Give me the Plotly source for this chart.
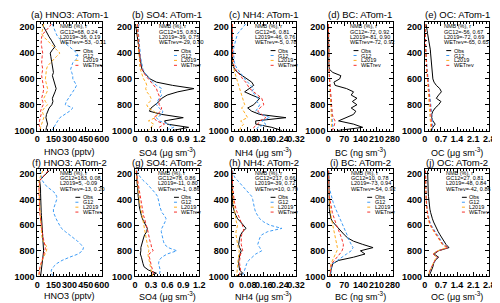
import plotly.graph_objects as go

# ---------------- data ----------------
PRESSURE = [175, 200, 225, 250, 275, 300, 325, 350, 375, 400, 425, 450, 475, 500, 525, 550, 575,
            600, 625, 650, 675, 700, 725, 750, 775, 800, 825, 850, 875, 900, 925, 950, 975, 1000]

SERIES_NAMES = ["Obs", "G12", "L2019", "WETrev"]

# ATom-1
hno3_a1_obs = [45,60,80,95,110,130,150,165,140,120,125,130,135,140,145,150,140,150,155,165,175,165,150,140,145,135,110,95,85,80,90,95,85,80]
hno3_a1_g12 = [140,150,165,175,190,220,260,300,340,370,375,360,330,320,310,320,330,330,345,365,350,330,310,290,270,260,330,300,250,210,190,170,150,135]
hno3_a1_l2019 = [60,55,45,40,60,90,120,150,185,210,180,150,120,95,85,80,75,75,80,85,95,90,75,60,75,95,65,45,55,60,50,40,30,30]
hno3_a1_wet = [130,110,80,55,40,35,35,40,45,50,45,40,40,45,50,45,40,45,50,55,60,55,45,40,50,55,40,30,35,25,20,15,25,30]

so4_a1_obs = [0.01,0.02,0.03,0.04,0.05,0.05,0.06,0.07,0.07,0.08,0.08,0.09,0.10,0.11,0.13,0.17,0.22,0.28,0.40,0.70,1.10,0.80,0.60,0.50,0.45,0.38,0.30,0.27,0.50,0.90,0.55,0.60,1.00,0.70]
so4_a1_g12 = [0.08,0.06,0.06,0.07,0.07,0.08,0.08,0.09,0.09,0.10,0.10,0.11,0.12,0.13,0.15,0.18,0.22,0.27,0.33,0.40,0.50,0.47,0.50,0.45,0.42,0.40,0.45,0.52,0.50,0.40,0.45,0.62,0.72,0.55]
so4_a1_l2019 = [0.04,0.04,0.05,0.05,0.06,0.06,0.06,0.07,0.07,0.07,0.08,0.08,0.09,0.09,0.10,0.12,0.14,0.16,0.20,0.22,0.20,0.22,0.27,0.30,0.28,0.22,0.25,0.35,0.42,0.38,0.25,0.35,0.30,0.25]
so4_a1_wet = [0.05,0.05,0.05,0.06,0.06,0.07,0.07,0.08,0.08,0.09,0.09,0.10,0.10,0.11,0.13,0.16,0.20,0.25,0.30,0.35,0.40,0.42,0.45,0.47,0.45,0.45,0.50,0.47,0.42,0.35,0.40,0.55,0.45,0.50]

nh4_a1_obs = [0.002,0.002,0.002,0.003,0.003,0.003,0.003,0.003,0.004,0.004,0.004,0.004,0.005,0.008,0.015,0.030,0.055,0.080,0.100,0.110,0.085,0.065,0.100,0.140,0.125,0.110,0.080,0.100,0.140,0.270,0.120,0.120,0.200,0.250]
nh4_a1_g12 = [0.070,0.055,0.045,0.030,0.025,0.020,0.015,0.012,0.010,0.010,0.010,0.012,0.015,0.020,0.030,0.045,0.055,0.065,0.080,0.100,0.110,0.100,0.120,0.130,0.125,0.140,0.130,0.120,0.150,0.190,0.150,0.170,0.130,0.120]
nh4_a1_l2019 = [0.002,0.002,0.002,0.002,0.003,0.003,0.003,0.003,0.004,0.004,0.004,0.005,0.006,0.008,0.012,0.016,0.020,0.025,0.030,0.035,0.040,0.045,0.050,0.055,0.060,0.065,0.050,0.060,0.070,0.080,0.045,0.060,0.045,0.040]
nh4_a1_wet = [0.003,0.003,0.003,0.004,0.004,0.004,0.005,0.005,0.005,0.006,0.006,0.007,0.008,0.012,0.020,0.030,0.045,0.055,0.070,0.080,0.090,0.110,0.130,0.150,0.155,0.160,0.140,0.130,0.150,0.170,0.140,0.130,0.110,0.110]

bc_a1_obs = [1,1,1,1,1,1,1,2,2,2,2,2,2,3,5,20,55,50,25,30,80,110,100,125,105,125,100,120,110,75,45,110,150,40]
bc_a1_g12 = [1,1,1,1,1,1,1,2,2,2,2,2,3,3,3,4,5,6,7,8,9,10,11,12,13,14,15,16,17,18,20,22,20,18]
bc_a1_l2019 = [1,1,1,1,1,1,1,1,1,1,2,2,2,2,3,3,4,5,6,6,7,8,9,10,10,11,12,12,13,14,14,15,15,14]
bc_a1_wet = [1,1,1,1,1,1,1,1,2,2,2,2,2,2,3,4,5,6,7,8,9,10,11,12,12,13,14,16,18,22,30,28,22,18]

oc_a1_obs = [0.05,0.06,0.10,0.12,0.15,0.18,0.20,0.22,0.24,0.25,0.26,0.27,0.28,0.28,0.29,0.30,0.32,0.35,0.40,0.50,0.65,0.72,0.60,0.50,0.70,0.60,0.45,0.35,0.30,0.30,0.35,0.45,0.35,0.25]
oc_a1_g12 = [0.01,0.01,0.02,0.02,0.03,0.03,0.04,0.04,0.05,0.05,0.06,0.07,0.08,0.09,0.10,0.11,0.12,0.13,0.15,0.16,0.18,0.20,0.21,0.23,0.25,0.27,0.28,0.30,0.31,0.32,0.33,0.35,0.34,0.33]
oc_a1_l2019 = [0.01,0.01,0.01,0.02,0.02,0.02,0.03,0.03,0.04,0.04,0.05,0.05,0.06,0.07,0.08,0.09,0.10,0.11,0.12,0.13,0.14,0.16,0.17,0.18,0.20,0.21,0.22,0.23,0.24,0.25,0.26,0.28,0.26,0.24]
oc_a1_wet = [0.01,0.01,0.02,0.02,0.02,0.03,0.03,0.04,0.04,0.05,0.05,0.06,0.07,0.08,0.09,0.10,0.11,0.12,0.13,0.15,0.16,0.18,0.19,0.21,0.22,0.24,0.25,0.27,0.28,0.29,0.30,0.31,0.30,0.29]

# ATom-2
hno3_a2_obs = [110,80,45,20,25,30,30,30,30,32,33,35,35,36,38,40,40,42,44,46,48,50,52,55,60,58,55,52,50,48,45,40,35,30]
hno3_a2_g12 = [25,30,35,45,65,90,130,165,180,180,170,160,150,150,160,175,190,205,225,260,300,340,375,405,430,420,380,300,230,180,150,130,130,150]
hno3_a2_l2019 = [50,40,25,15,15,15,15,16,18,20,21,22,23,25,26,27,28,30,32,35,40,45,55,75,90,85,70,55,45,35,25,20,15,15]
hno3_a2_wet = [100,75,45,25,20,15,15,15,15,15,16,18,20,22,25,28,31,35,40,45,50,55,62,70,75,70,60,50,40,32,25,20,15,15]

so4_a2_obs = [0.03,0.03,0.03,0.04,0.04,0.05,0.05,0.06,0.06,0.07,0.07,0.08,0.09,0.10,0.12,0.14,0.17,0.20,0.23,0.22,0.18,0.16,0.14,0.12,0.11,0.11,0.10,0.12,0.13,0.15,0.17,0.25,0.40,0.25]
so4_a2_g12 = [0.05,0.06,0.10,0.15,0.22,0.28,0.33,0.38,0.42,0.44,0.45,0.46,0.48,0.50,0.55,0.58,0.56,0.53,0.50,0.49,0.50,0.52,0.53,0.55,0.62,0.78,0.60,0.50,0.45,0.44,0.45,0.47,0.46,0.44]
so4_a2_l2019 = [0.02,0.02,0.03,0.04,0.05,0.05,0.06,0.07,0.08,0.08,0.09,0.10,0.11,0.12,0.13,0.14,0.15,0.16,0.17,0.18,0.19,0.20,0.22,0.23,0.25,0.26,0.24,0.25,0.26,0.27,0.28,0.30,0.32,0.33]
so4_a2_wet = [0.03,0.03,0.04,0.05,0.06,0.07,0.08,0.09,0.10,0.10,0.11,0.12,0.13,0.15,0.16,0.18,0.19,0.21,0.23,0.24,0.25,0.27,0.28,0.30,0.31,0.34,0.26,0.27,0.28,0.30,0.31,0.33,0.34,0.35]

nh4_a2_obs = [0.002,0.002,0.002,0.003,0.003,0.003,0.004,0.004,0.004,0.005,0.005,0.006,0.010,0.015,0.022,0.030,0.045,0.060,0.072,0.055,0.045,0.040,0.038,0.035,0.040,0.048,0.042,0.038,0.036,0.035,0.036,0.040,0.055,0.020]
nh4_a2_g12 = [0.005,0.008,0.015,0.030,0.045,0.060,0.075,0.090,0.100,0.105,0.108,0.110,0.115,0.120,0.130,0.140,0.160,0.190,0.250,0.180,0.150,0.140,0.135,0.130,0.140,0.150,0.120,0.100,0.085,0.075,0.070,0.065,0.060,0.050]
nh4_a2_l2019 = [0.001,0.001,0.002,0.002,0.003,0.003,0.004,0.005,0.006,0.008,0.010,0.012,0.014,0.016,0.018,0.020,0.024,0.030,0.025,0.022,0.022,0.024,0.026,0.030,0.033,0.038,0.035,0.033,0.032,0.031,0.030,0.030,0.028,0.025]
nh4_a2_wet = [0.002,0.002,0.003,0.004,0.005,0.006,0.007,0.008,0.010,0.012,0.015,0.018,0.022,0.028,0.034,0.040,0.048,0.055,0.060,0.058,0.050,0.048,0.047,0.048,0.052,0.055,0.045,0.042,0.040,0.040,0.042,0.045,0.040,0.035]

bc_a2_obs = [2,2,2,2,3,3,3,3,3,4,4,4,5,7,9,12,20,32,45,55,70,85,110,150,195,140,160,110,45,20,15,12,10,8]
bc_a2_g12 = [2,2,3,3,4,5,7,10,13,17,22,27,33,40,47,54,60,66,72,78,82,86,92,100,108,100,80,60,35,20,14,12,12,12]
bc_a2_l2019 = [1,1,2,2,2,3,3,4,4,5,6,7,8,10,12,14,17,20,22,25,27,30,33,38,40,38,32,25,18,12,10,8,7,7]
bc_a2_wet = [1,1,2,2,3,3,4,4,5,7,9,12,15,18,22,26,31,36,42,48,53,58,62,66,65,60,50,38,25,15,12,10,9,8]

oc_a2_obs = [0.12,0.12,0.12,0.13,0.13,0.14,0.14,0.15,0.16,0.17,0.18,0.20,0.22,0.25,0.28,0.33,0.38,0.44,0.50,0.58,0.66,0.74,0.82,0.92,1.05,0.60,0.40,0.60,0.45,0.38,0.35,0.30,0.22,0.18]
oc_a2_g12 = [0.03,0.03,0.04,0.04,0.05,0.05,0.05,0.06,0.06,0.07,0.07,0.08,0.10,0.12,0.15,0.18,0.22,0.28,0.35,0.45,0.55,0.65,0.72,0.80,1.00,0.55,0.35,0.55,0.45,0.38,0.30,0.24,0.20,0.16]
oc_a2_l2019 = [0.02,0.02,0.03,0.03,0.04,0.04,0.04,0.05,0.05,0.06,0.06,0.07,0.08,0.10,0.12,0.15,0.18,0.22,0.30,0.38,0.48,0.58,0.66,0.75,0.95,0.55,0.35,0.52,0.42,0.36,0.28,0.22,0.18,0.15]
oc_a2_wet = [0.03,0.03,0.03,0.04,0.04,0.05,0.05,0.05,0.06,0.06,0.07,0.08,0.09,0.11,0.13,0.16,0.20,0.25,0.33,0.42,0.52,0.62,0.70,0.78,1.02,0.58,0.36,0.55,0.44,0.37,0.29,0.23,0.19,0.16]

# panel titles, axis labels, stats
TITLES = ["(a) HNO3: ATom-1", "(b) SO4: ATom-1", "(c) NH4: ATom-1", "(d) BC: ATom-1", "(e) OC: ATom-1",
          "(f) HNO3: ATom-2", "(g) SO4: ATom-2", "(h) NH4: ATom-2", "(i) BC: ATom-2", "(j) OC: ATom-2"]
XLABELS = ["HNO3 (pptv)", "SO4 (μg sm<sup>-3</sup>)", "NH4 (μg sm<sup>-3</sup>)",
           "BC (ng sm<sup>-3</sup>)", "OC (μg sm<sup>-3</sup>)"]
X_MAX = [600, 1.2, 0.32, 280, 2.8]
X_DTICK = [150, 0.3, 0.08, 70, 0.7]
STATS = [
    ["GC12=68, 0.24", "L2019=-36, 0.19", "WETrev=-53, -0.11"],
    ["GC12=15, 0.83", "L2019=-39, 0.75", "WETrev=-29, 0.80"],
    ["GC12=6, 0.81", "L2019=-46, 0.76", "WETrev=-5, 0.78"],
    ["GC12=-72, 0.92", "L2019=-81, 0.90", "WETrev=-72, 0.92"],
    ["GC12=-56, 0.67", "L2019=-72, 0.69", "WETrev=-65, 0.65"],
    ["GC12=163, 0.08", "L2019=5, -0.09", "WETrev=-13, 0.20"],
    ["GC12=78, 0.86", "L2019=-11, 0.80", "WETrev=-1, 0.86"],
    ["GC12=217, 0.66", "L2019=-39, 0.72", "WETrev=10, 0.79"],
    ["GC12=10, 0.78", "L2019=-73, 0.94", "WETrev=-54, 0.92"],
    ["GC12=27, 0.81", "L2019=-48, 0.84", "WETrev=-42, 0.86"],
]

PANEL_DATA = [
    [hno3_a1_obs, hno3_a1_g12, hno3_a1_l2019, hno3_a1_wet],
    [so4_a1_obs, so4_a1_g12, so4_a1_l2019, so4_a1_wet],
    [nh4_a1_obs, nh4_a1_g12, nh4_a1_l2019, nh4_a1_wet],
    [bc_a1_obs, bc_a1_g12, bc_a1_l2019, bc_a1_wet],
    [oc_a1_obs, oc_a1_g12, oc_a1_l2019, oc_a1_wet],
    [hno3_a2_obs, hno3_a2_g12, hno3_a2_l2019, hno3_a2_wet],
    [so4_a2_obs, so4_a2_g12, so4_a2_l2019, so4_a2_wet],
    [nh4_a2_obs, nh4_a2_g12, nh4_a2_l2019, nh4_a2_wet],
    [bc_a2_obs, bc_a2_g12, bc_a2_l2019, bc_a2_wet],
    [oc_a2_obs, oc_a2_g12, oc_a2_l2019, oc_a2_wet],
]

# ---------------- styling / layout ----------------
W_PX, H_PX = 500, 303
COLORS = ["#000000", "#3d9bf5", "#ffad1f", "#f5302a"]
DASHES = ["solid", "3px,2px", "3px,2px", "3px,2px"]
FONT = "Liberation Sans, Arial, sans-serif"

COL_LEFT = [27, 127, 226, 325, 424]
PANEL_W = 66
ROWS = [(14.3, 124.7), (163.5, 273.0)]
TITLE_SHIFT = [7.5, 6.0]
XLAB_SHIFT = [21.5, 19.5]
LEG_X = [39, 40, 40, 26, 22, 39, 40, 40, 40, 38]   # px from panel left to legend line start
STAT_X = [21, 23, 22, 20, 18, 21, 22, 22, 21, 20]

fig = go.Figure()
layout = dict(
    width=W_PX, height=H_PX, margin=dict(l=0, r=0, t=0, b=0),
    paper_bgcolor="white", plot_bgcolor="white", showlegend=False,
    font=dict(family=FONT, color="black", size=9),
)
annotations = []
shapes = []

for i in range(10):
    r, c = divmod(i, 5)
    n = i + 1
    xa = "x" if n == 1 else f"x{n}"
    ya = "y" if n == 1 else f"y{n}"
    for k in range(4):
        fig.add_trace(go.Scatter(
            x=PANEL_DATA[i][k], y=PRESSURE, mode="lines", name=SERIES_NAMES[k],
            line=dict(color=COLORS[k], width=1, dash=DASHES[k]),
            xaxis=xa, yaxis=ya, hoverinfo="skip"))
    L = COL_LEFT[c]
    T, B = ROWS[r]
    H = B - T
    common = dict(showline=True, linecolor="black", linewidth=1, mirror="allticks",
                  ticks="inside", ticklen=4, tickcolor="black", tickwidth=1,
                  showgrid=False, zeroline=False, tickangle=0,
                  tickfont=dict(family=FONT, size=9, color="black", weight="bold"))
    layout[f"xaxis{n}"] = dict(
        domain=[L / W_PX, (L + PANEL_W) / W_PX], anchor=ya,
        range=[0, X_MAX[c] * 1.0001], tickmode="linear", tick0=0, dtick=X_DTICK[c],
        minor=dict(ticks="inside", ticklen=2, dtick=X_DTICK[c] / 5, tickcolor="black"),
        **common)
    layout[f"yaxis{n}"] = dict(
        domain=[1 - B / H_PX, 1 - T / H_PX], anchor=xa,
        range=[1000.5, 160], tickmode="linear", tick0=0, dtick=200,
        minor=dict(ticks="inside", ticklen=2, dtick=50, tickcolor="black"),
        **common)
    xd = f"{xa} domain"
    yd = f"{ya} domain"
    # panel title
    annotations.append(dict(text=TITLES[i], xref=xd, yref=yd, x=0.5, y=1, yshift=TITLE_SHIFT[r],
                            xanchor="center", yanchor="middle", showarrow=False,
                            font=dict(family=FONT, size=9.5, color="black")))
    # x-axis label
    annotations.append(dict(text=XLABELS[c], xref=xd, yref=yd, x=0.5, y=0, yshift=-XLAB_SHIFT[r],
                            xanchor="center", yanchor="middle", showarrow=False,
                            font=dict(family=FONT, size=9, color="black")))
    # stats block
    stat_lines = ["NMB (%), r"] + STATS[i]
    for j, s in enumerate(stat_lines):
        annotations.append(dict(text=s, xref=xd, yref=yd, x=STAT_X[i] / PANEL_W,
                                y=1 - (4.3 + 5.3 * j) / H, xanchor="left", yanchor="middle",
                                showarrow=False, font=dict(family=FONT, size=5.5, color="black")))
    # legend
    for k in range(4):
        yy = 1 - (29 + 5 * k) / H
        x0 = LEG_X[i] / PANEL_W
        x1 = (LEG_X[i] + 5) / PANEL_W
        shapes.append(dict(type="line", xref=xd, yref=yd, x0=x0, x1=x1, y0=yy, y1=yy,
                           line=dict(color=COLORS[k], width=1, dash="solid" if k == 0 else "dot")))
        annotations.append(dict(text=SERIES_NAMES[k], xref=xd, yref=yd, x=(LEG_X[i] + 5.5) / PANEL_W,
                                y=yy, xanchor="left", yanchor="middle", showarrow=False,
                                font=dict(family=FONT, size=5.5, color="black")))

layout["annotations"] = annotations
layout["shapes"] = shapes
fig.update_layout(**layout)
fig.write_html("out.html")
